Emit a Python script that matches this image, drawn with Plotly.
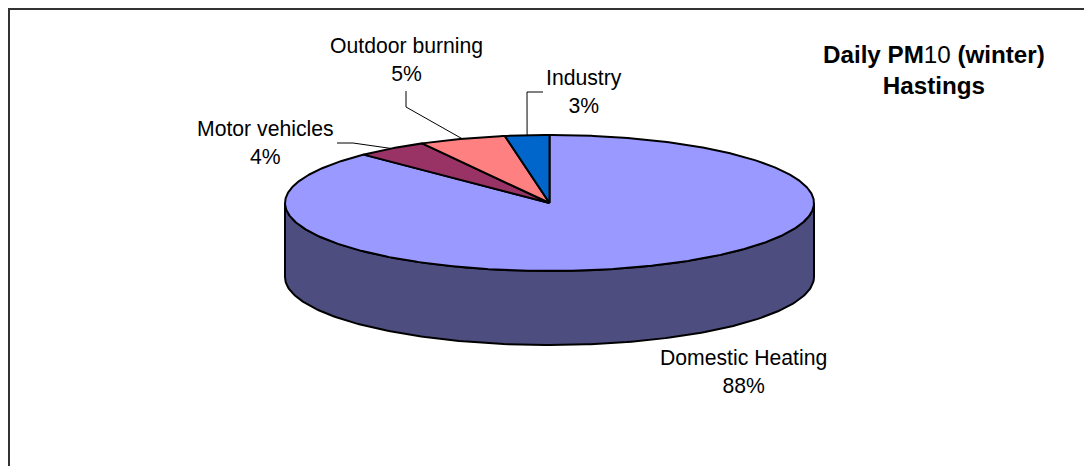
import numpy as np
import plotly.graph_objects as go

categories = ["Domestic Heating", "Motor vehicles", "Outdoor burning", "Industry"]
values = [87.6, 4.4, 5.3, 2.7]
colors = ["#9999FF", "#993366", "#FF8080", "#0066CC"]
side_color = "#4D4D80"
title_lines = ["<b>Daily PM</b>10 <b>(winter)</b>", "<b>Hastings</b>"]

W, H = 1084, 466
CX, CY, RX, RY, DEPTH = 549.5, 203, 264.5, 68, 74
LABEL_SIZE = 21.2
TITLE_SIZE = 24.2


def rim(theta, dy=0):
    return CX + RX * np.sin(theta), CY - RY * np.cos(theta) + dy


fig = go.Figure()

# side wall: visible front half of the cylinder
t = np.linspace(np.pi / 2, 3 * np.pi / 2, 181)
x1, y1 = rim(t)
x2, y2 = rim(t[::-1], DEPTH)
fig.add_trace(go.Scatter(x=np.r_[x1, x2, x1[0]], y=np.r_[y1, y2, y1[0]], mode="lines",
                         fill="toself", fillcolor=side_color,
                         line=dict(color="black", width=2), hoverinfo="skip"))

# top slices, clockwise from 12 o'clock
total = sum(values)
edges = np.r_[0, np.cumsum(values)] / total * 2 * np.pi
mids = {}
for name, v, c, a, b in zip(categories, values, colors, edges[:-1], edges[1:]):
    t = np.linspace(a, b, max(int((b - a) * 120), 8))
    x, y = rim(t)
    fig.add_trace(go.Scatter(x=np.r_[CX, x, CX], y=np.r_[CY, y, CY], mode="lines",
                             fill="toself", fillcolor=c,
                             line=dict(color="black", width=2), hoverinfo="skip"))
    mids[name] = rim((a + b) / 2)

# label anchor (centre of the two-line text) and leader elbow points
label_pos = {
    "Domestic Heating": (743, 371.5),
    "Motor vehicles": (265.5, 142),
    "Outdoor burning": (406.5, 59.5),
    "Industry": (584, 91.5),
}
leaders = {
    "Motor vehicles": [(337, 143), (353, 143)],
    "Outdoor burning": [(406, 91), (406, 107)],
    "Industry": [(543, 92), (527, 92)],
}
for name, pts in leaders.items():
    xs = [p[0] for p in pts] + [mids[name][0]]
    ys = [p[1] for p in pts] + [mids[name][1]]
    fig.add_trace(go.Scatter(x=xs, y=ys, mode="lines", line=dict(color="black", width=1), hoverinfo="skip"))

annotations = []
for name, v in zip(categories, values):
    lx, ly = label_pos[name]
    annotations.append(dict(x=lx, y=ly, xref="x", yref="y", showarrow=False, align="center",
                            text=f"{name}<br>{round(v)}%",
                            font=dict(family="Liberation Sans, Arial, sans-serif", size=LABEL_SIZE, color="black")))
annotations.append(dict(x=934, y=70, xref="x", yref="y", showarrow=False, align="center",
                        text="<br>".join(title_lines),
                        font=dict(family="Liberation Sans, Arial, sans-serif", size=TITLE_SIZE, color="black")))

fig.update_layout(
    width=W, height=H, margin=dict(l=0, r=0, t=0, b=0), showlegend=False,
    paper_bgcolor="white", plot_bgcolor="white", annotations=annotations,
    xaxis=dict(range=[0, W], visible=False, fixedrange=True),
    yaxis=dict(range=[H, 0], visible=False, fixedrange=True),
    shapes=[dict(type="rect", xref="x", yref="y", x0=9, y0=9, x1=W + 10, y1=H + 10,
                 line=dict(color="#333333", width=2), layer="below")],
)
fig.write_html("out.html", config={"displayModeBar": False},
               post_script="document.body.style.margin='0';document.body.style.overflow='hidden';")
